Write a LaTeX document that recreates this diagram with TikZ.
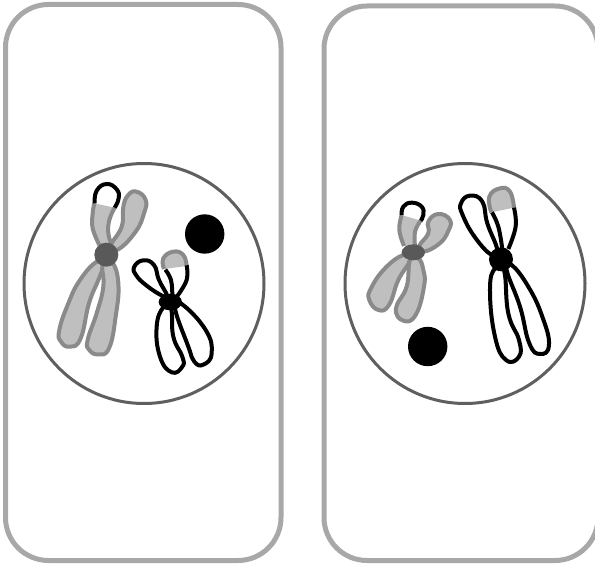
\documentclass[tikz,border=0pt]{standalone}
\definecolor{cellwall}{HTML}{A8A8A8}
\definecolor{nucwall}{HTML}{5F5F5F}
\definecolor{armfill}{HTML}{BFBFBF}
\definecolor{armline}{HTML}{8A8A8A}
\definecolor{cendark}{HTML}{595959}
\tikzset{
  cellbox/.style={draw=cellwall,line width=5pt,rounded corners=43pt,fill=white},
  nucleus/.style={draw=nucwall,line width=3pt,fill=white},
  grayarm/.style={draw=armline,fill=armfill,line width=4pt,line join=round},
  openarm/.style={draw=armline,line width=4pt,line cap=butt},
  inkarm/.style={draw=black,fill=white,line width=4pt,line join=round},
  openink/.style={draw=black,line width=4pt,line cap=butt},
  graycen/.style={fill=cendark},
  inkcen/.style={fill=black},
  body/.style={fill=black}
}
\begin{document}
\begin{tikzpicture}[x=1pt,y=-1pt]
\useasboundingbox (0,0) rectangle (595,564);
\begin{scope}
\clip (0,0) rectangle (595,564);
% two cells with their nuclei
\draw[cellbox] (5.5,4.5) rectangle (281,560.5);
\draw[cellbox] (324,6) rectangle (598,560.5);
\draw[nucleus] (144,283.5) circle[radius=120];
\draw[nucleus] (465,283.5) circle[radius=120];
\end{scope}
\fill[body] (204.7,234) circle[radius=19.7];
\fill[body] (427.7,346.5) circle[radius=19.7];

% left cell: large gray chromosome and small black one
\begin{scope}[shift={(40,170)},x=0.3333pt,y=-0.3333pt]
  \fill[armfill] plot[smooth,tension=0.7] coordinates {(178,225)(158,175)(158,130)(163,100)} -- (224,113) -- plot[smooth,tension=0.7] coordinates {(224,113)(208,150)(205,190)(215,225)} -- cycle;
  \draw[openarm] plot[smooth,tension=0.7] coordinates {(178,225)(158,175)(158,130)(163,100)};
  \draw[openarm] plot[smooth,tension=0.7] coordinates {(224,113)(208,150)(205,190)(215,225)};
  \draw[openink] plot[smooth,tension=0.8] coordinates {(164,100)(170,62)(200,42)(230,58)(236,85)(224,113)};
  \draw[grayarm] plot[smooth cycle,tension=0.8] coordinates {(212,228)(245,170)(250,110)(265,75)(290,65)(317,90)(312,130)(287,185)(235,238)};
  \draw[grayarm] plot[smooth cycle,tension=0.8] coordinates {(170,275)(120,330)(85,400)(58,480)(63,515)(90,530)(122,505)(147,400)(175,330)(190,285)};
  \draw[grayarm] plot[smooth cycle,tension=0.8] coordinates {(188,285)(190,350)(170,430)(143,510)(148,540)(175,553)(207,535)(227,440)(235,340)(215,275)};
  \fill[graycen] (199,254) circle[radius=36];

  \draw[inkarm] plot[smooth cycle,tension=0.8] coordinates {(368,378)(320,347)(288,315)(283,290)(310,271)(342,285)(357,330)(382,378)};
  \fill[armfill] plot[smooth,tension=0.8] coordinates {(372,297)(370,265)(400,245)(430,255)(440,288)} -- cycle;
  \draw[openarm] plot[smooth,tension=0.8] coordinates {(372,297)(370,265)(400,245)(430,255)(440,288)};
  \draw[openink] plot[smooth,tension=0.7] coordinates {(397,375)(393,330)(376,299)};
  \draw[openink] plot[smooth,tension=0.7] coordinates {(440,286)(440,330)(412,378)};
  \draw[inkarm] plot[smooth cycle,tension=0.8] coordinates {(370,412)(350,470)(360,560)(395,607)(427,590)(427,560)(400,500)(393,415)};
  \draw[inkarm] plot[smooth cycle,tension=0.8] coordinates {(405,415)(445,530)(463,575)(490,584)(515,550)(497,480)(425,402)};
  \fill[inkcen] (391,396) ellipse[x radius=35,y radius=25];
\end{scope}

% right cell: small gray chromosome and large black one
\begin{scope}[shift={(360,180)},x=0.3333pt,y=-0.3333pt]
  \fill[armfill] plot[smooth,tension=0.7] coordinates {(132,198)(118,150)(125,105)} -- (182,122) -- plot[smooth,tension=0.7] coordinates {(182,122)(165,155)(165,198)} -- cycle;
  \draw[openarm] plot[smooth,tension=0.7] coordinates {(132,198)(118,150)(125,105)};
  \draw[openarm] plot[smooth,tension=0.7] coordinates {(182,122)(165,155)(165,198)};
  \draw[openink] plot[smooth,tension=0.8] coordinates {(125,105)(130,80)(155,68)(185,80)(190,105)(182,122)};
  \draw[grayarm] plot[smooth cycle,tension=0.8] coordinates {(178,198)(205,160)(205,125)(235,102)(270,120)(264,155)(237,192)(190,215)};
  \draw[grayarm] plot[smooth cycle,tension=0.8] coordinates {(130,225)(75,265)(33,325)(28,360)(55,390)(87,375)(115,300)(150,240)};
  \draw[grayarm] plot[smooth cycle,tension=0.8] coordinates {(150,240)(140,320)(108,385)(130,422)(167,405)(192,320)(190,270)(175,235)};
  \fill[graycen] (160,217) ellipse[x radius=35,y radius=24];

  \draw[inkarm] plot[smooth cycle,tension=0.8] coordinates {(395,225)(345,172)(308,105)(303,70)(330,47)(367,65)(382,130)(412,210)};
  \fill[armfill] plot[smooth,tension=0.8] coordinates {(394,97)(388,50)(420,25)(450,35)(462,83)} -- cycle;
  \draw[openarm] plot[smooth,tension=0.8] coordinates {(394,97)(388,50)(420,25)(450,35)(462,83)};
  \draw[openink] plot[smooth,tension=0.7] coordinates {(427,207)(415,140)(396,97)};
  \draw[openink] plot[smooth,tension=0.7] coordinates {(462,83)(467,140)(445,207)};
  \draw[inkarm] plot[smooth cycle,tension=0.8] coordinates {(405,265)(390,330)(405,470)(438,540)(477,530)(477,480)(445,400)(432,270)};
  \draw[inkarm] plot[smooth cycle,tension=0.8] coordinates {(440,270)(480,380)(508,490)(540,522)(567,495)(547,410)(505,320)(455,255)};
  \fill[inkcen] (423,238) circle[radius=36];
\end{scope}
\end{tikzpicture}
\end{document}
